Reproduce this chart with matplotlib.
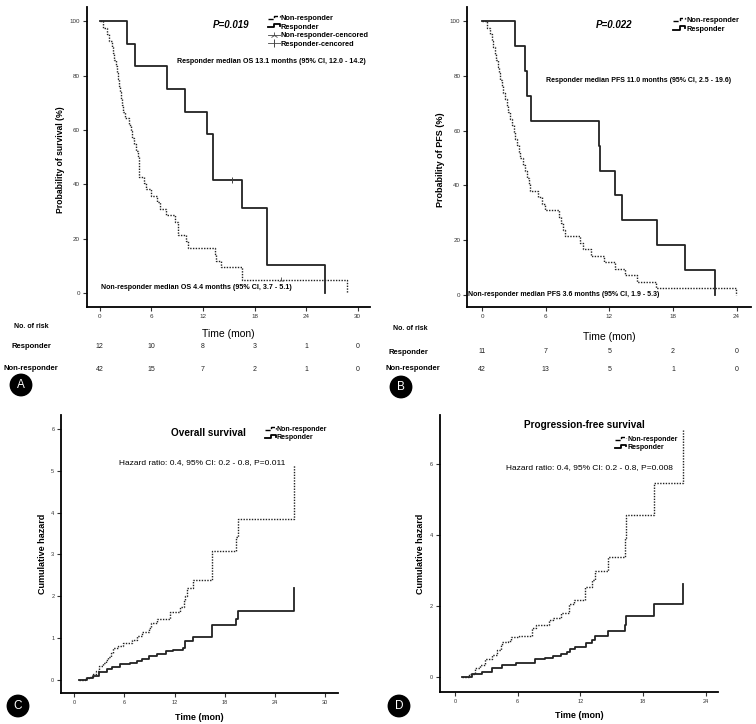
import numpy as np
import matplotlib
matplotlib.use("Agg")
import matplotlib.pyplot as plt
from matplotlib.lines import Line2D
from matplotlib.legend_handler import HandlerLine2D

plt.rcParams['font.family'] = ['Liberation Sans', 'DejaVu Sans']

# ---- A: overall survival, event / censor times (months) ----
os_resp_events = [3.2, 4.1, 7.8, 9.9, 12.5, 13.2, 13.2, 16.5, 19.4, 19.5, 26.2]
os_resp_censor = [15.4]
os_nonr_events = [0.4, 0.8, 1.1, 1.4, 1.5, 1.7, 1.9, 2.0, 2.1, 2.2, 2.4, 2.5, 2.6, 2.7, 2.9,
                  3.4, 3.6, 3.8, 4.0, 4.2, 4.4, 4.6, 4.6, 4.6, 5.1, 5.4, 5.9, 6.6, 7.0, 7.7,
                  8.7, 9.1, 9.1, 10.0, 10.3, 13.4, 13.5, 14.1, 16.5, 16.5, 28.8]
os_nonr_censor = [21.1]
os_risk_resp = [12, 10, 8, 3, 1, 0]
os_risk_nonr = [42, 15, 7, 2, 1, 0]
os_risk_times = [0, 6, 12, 18, 24, 30]

# ---- B: progression-free survival ----
pfs_resp_events = [3.1, 4.0, 4.2, 4.6, 11.0, 11.1, 12.5, 13.2, 16.5, 19.1, 22.0]
pfs_resp_censor = []
pfs_nonr_events = [0.45, 0.7, 0.9, 1.05, 1.2, 1.3, 1.45, 1.55, 1.7, 1.85, 2.0, 2.1, 2.3, 2.45,
                   2.6, 2.8, 2.95, 3.1, 3.3, 3.45, 3.6, 3.8, 4.0, 4.2, 4.4, 4.5, 5.3, 5.6, 5.9,
                   7.2, 7.4, 7.6, 7.8, 9.2, 9.5, 10.3, 11.5, 12.5, 13.5, 14.6, 16.4, 23.9]
pfs_nonr_censor = []
pfs_risk_resp = [11, 7, 5, 2, 0]
pfs_risk_nonr = [42, 13, 5, 1, 0]
pfs_risk_times = [0, 6, 12, 18, 24]

# ---- C: cumulative hazard, overall survival ----
ch_os_nonr_t = [0.6, 1.3, 1.8, 2.2, 2.6, 3.0, 3.4, 3.8, 4.1, 4.4, 4.6, 5.3, 5.8, 6.9, 7.5, 8.1,
                8.9, 9.2, 9.9, 11.5, 12.6, 13.1, 13.3, 13.5, 14.2, 16.5, 19.4, 19.6, 26.3]
ch_os_nonr_v = [0, 0.04, 0.08, 0.14, 0.22, 0.33, 0.40, 0.47, 0.55, 0.65, 0.76, 0.81, 0.89, 0.96,
                1.04, 1.14, 1.24, 1.36, 1.45, 1.62, 1.74, 1.88, 2.0, 2.2, 2.38, 3.09, 3.43, 3.86, 5.15]
ch_os_resp_t = [0.6, 1.5, 2.3, 3.0, 3.9, 4.5, 5.5, 6.7, 7.5, 8.1, 8.9, 9.9, 11.0, 11.8, 13.0,
                13.3, 14.2, 16.5, 19.4, 19.6, 26.3]
ch_os_resp_v = [0, 0.04, 0.1, 0.18, 0.26, 0.32, 0.37, 0.41, 0.46, 0.5, 0.57, 0.61, 0.68, 0.72,
                0.77, 0.92, 1.02, 1.32, 1.45, 1.65, 2.2]

# ---- D: cumulative hazard, PFS ----
ch_pfs_nonr_t = [0.64, 1.3, 1.9, 2.4, 2.9, 3.5, 4.0, 4.4, 4.5, 5.1, 5.4, 6.1, 7.4, 7.8, 9.0, 9.4,
                 10.1, 10.9, 11.4, 12.4, 13.1, 13.4, 14.6, 16.3, 16.4, 19.1, 21.8]
ch_pfs_nonr_v = [0, 0.09, 0.25, 0.35, 0.5, 0.63, 0.77, 0.91, 1.0, 1.02, 1.13, 1.16, 1.38, 1.47,
                 1.62, 1.66, 1.8, 2.06, 2.18, 2.55, 2.74, 3.0, 3.38, 3.92, 4.55, 5.46, 6.95]
ch_pfs_resp_t = [0.64, 1.6, 2.6, 3.5, 4.5, 5.8, 7.7, 8.6, 9.4, 10.1, 10.7, 11.0, 11.5, 12.5, 13.1,
                 13.4, 14.6, 16.3, 16.4, 19.1, 21.8]
ch_pfs_resp_v = [0, 0.09, 0.16, 0.25, 0.35, 0.41, 0.51, 0.55, 0.6, 0.65, 0.72, 0.8, 0.84, 0.96,
                 1.05, 1.15, 1.29, 1.47, 1.71, 2.06, 2.62]

DOT = (0, (1, 1))
NARROW = ['Liberation Sans Narrow', 'Liberation Sans', 'DejaVu Sans']


def km_steps(events, censored):
    """Kaplan-Meier 曲线的阶梯点 (百分比)"""
    n = len(events) + len(censored)
    t, s = [0.0], [100.0]
    cx, cy = [], []
    at_risk, surv = n, 100.0
    for u in sorted(set(events + censored)):
        d = events.count(u)
        c = censored.count(u)
        if d:
            surv *= (1 - d / at_risk)
            t.append(u)
            s.append(surv)
        if c:
            cx.append(u)
            cy.append(surv)
        at_risk -= d + c
    return t, s, cx, cy


class StepHandler(HandlerLine2D):
    """图例里画成阶梯形"""
    def create_artists(self, legend, orig_handle, xdescent, ydescent, width, height, fontsize, trans):
        x = np.array([0, 0.55, 0.55, 1.0, 1.0]) * width - xdescent
        y = np.array([0.2, 0.2, 0.85, 0.85, 0.5]) * height - ydescent
        ln = Line2D(x, y, color='black', lw=orig_handle.get_linewidth(),
                    linestyle=orig_handle.get_linestyle())
        ln.set_transform(trans)
        return [ln]


def style_axes(ax, xlim, ylim, xticks, yticks, tick_fs):
    ax.set_xlim(*xlim)
    ax.set_ylim(*ylim)
    ax.set_xticks(xticks)
    ax.set_yticks(yticks)
    for sp in ['top', 'right']:
        ax.spines[sp].set_visible(False)
    for sp in ['left', 'bottom']:
        ax.spines[sp].set_linewidth(1.3)
    ax.tick_params(direction='out', length=3, width=0.8, labelsize=tick_fs, pad=2, colors='#333333')


fig = plt.figure(figsize=(7.56, 7.24), dpi=100)

# ================= A =================
axA = fig.add_axes([0.115, 0.576, 0.374, 0.414])
style_axes(axA, (-1.5, 31.4), (-5.1, 105.1), range(0, 31, 6), range(0, 101, 20), 4.5)
t, s, cx, cy = km_steps(os_nonr_events, os_nonr_censor)
axA.step(t, s, where='post', color='#222222', lw=1.0, linestyle=DOT)
axA.plot(cx, cy, linestyle='none', marker='2', color='#444444', ms=4, mew=0.6)
t, s, cx, cy = km_steps(os_resp_events, os_resp_censor)
axA.step(t, s, where='post', color='#222222', lw=1.3)
axA.plot(cx, cy, linestyle='none', marker='|', color='#444444', ms=5, mew=0.7)
axA.text(15.3, 98.5, 'P=0.019', fontsize=7, fontstyle='italic', fontweight='bold', ha='center', va='center')
axA.text(9.0, 85, 'Responder median OS 13.1 months (95% CI, 12.0 - 14.2)', fontsize=5.1,
         fontweight='bold', family=NARROW, ha='left', va='center')
axA.text(0.1, 2.2, 'Non-responder median OS 4.4 months (95% CI, 3.7 - 5.1)', fontsize=5.1,
         fontweight='bold', family=NARROW, ha='left', va='center')
hA = [Line2D([], [], color='#222222', lw=1.0, linestyle=DOT),
      Line2D([], [], color='#222222', lw=1.3),
      Line2D([], [], color='#444444', lw=0.6, marker='2', ms=5, mew=0.6),
      Line2D([], [], color='#444444', lw=0.6, marker='|', ms=6, mew=0.7)]
axA.legend(hA, ['Non-responder', 'Responder', 'Non-responder-cencored', 'Responder-cencored'],
           handler_map={hA[0]: StepHandler(), hA[1]: StepHandler()},
           loc='upper left', bbox_to_anchor=(0.64, 0.975), frameon=False,
           prop={'size': 5.3, 'weight': 'bold', 'family': NARROW},
           handlelength=1.6, handletextpad=0.15, labelspacing=0.2, borderpad=0, borderaxespad=0)
axA.set_ylabel('Probability of survival (%)', fontsize=6.2, fontweight='bold')
axA.yaxis.set_label_coords(-0.078, 0.49)
axA.set_xlabel('Time (mon)', fontsize=7.5)
axA.xaxis.set_label_coords(0.5, -0.073)
trA = axA.get_xaxis_transform()
for x, r1, r2 in zip(os_risk_times, os_risk_resp, os_risk_nonr):
    axA.text(x, -0.133, str(r1), transform=trA, fontsize=5, ha='center', va='center', color='#222222')
    axA.text(x, -0.207, str(r2), transform=trA, fontsize=5, ha='center', va='center', color='#222222')
fig.text(31 / 756, 1 - 327 / 724, 'No. of risk', fontsize=5, fontweight='bold', ha='center', va='center')
fig.text(31 / 756, 1 - 347 / 724, 'Responder', fontsize=5.5, fontweight='bold', ha='center', va='center')
fig.text(31 / 756, 1 - 369 / 724, 'Non-responder', fontsize=5.5, fontweight='bold', ha='center', va='center')

# ================= B =================
axB = fig.add_axes([0.618, 0.576, 0.376, 0.414])
style_axes(axB, (-1.42, 25.4), (-4.4, 105.1), range(0, 25, 6), range(0, 101, 20), 4.5)
t, s, cx, cy = km_steps(pfs_nonr_events, pfs_nonr_censor)
axB.step(t, s, where='post', color='#222222', lw=1.0, linestyle=DOT)
t, s, cx, cy = km_steps(pfs_resp_events, pfs_resp_censor)
axB.step(t, s, where='post', color='#222222', lw=1.3)
axB.text(12.4, 98.5, 'P=0.022', fontsize=7, fontstyle='italic', fontweight='bold', ha='center', va='center')
axB.text(6.05, 78.5, 'Responder median PFS 11.0 months (95% CI, 2.5 - 19.6)', fontsize=5.0,
         fontweight='bold', family=NARROW, ha='left', va='center')
axB.text(-1.3, 0.3, 'Non-responder median PFS 3.6 months (95% CI, 1.9 - 5.3)', fontsize=5.0,
         fontweight='bold', family=NARROW, ha='left', va='center')
hB = [Line2D([], [], color='#222222', lw=1.0, linestyle=DOT),
      Line2D([], [], color='#222222', lw=1.3)]
axB.legend(hB, ['Non-responder', 'Responder'], handler_map={hB[0]: StepHandler(), hB[1]: StepHandler()},
           loc='upper left', bbox_to_anchor=(0.725, 0.968), frameon=False,
           prop={'size': 5.3, 'weight': 'bold', 'family': NARROW},
           handlelength=1.6, handletextpad=0.15, labelspacing=0.2, borderpad=0, borderaxespad=0)
axB.set_ylabel('Probability of PFS (%)', fontsize=6.5, fontweight='bold')
axB.yaxis.set_label_coords(-0.077, 0.49)
axB.set_xlabel('Time (mon)', fontsize=7.5)
axB.xaxis.set_label_coords(0.5, -0.083)
trB = axB.get_xaxis_transform()
for x, r1, r2 in zip(pfs_risk_times, pfs_risk_resp, pfs_risk_nonr):
    axB.text(x, -0.15, str(r1), transform=trB, fontsize=5, ha='center', va='center', color='#222222')
    axB.text(x, -0.207, str(r2), transform=trB, fontsize=5, ha='center', va='center', color='#222222')
fig.text(410 / 756, 1 - 329 / 724, 'No. of risk', fontsize=5, fontweight='bold', ha='center', va='center')
fig.text(408 / 756, 1 - 352 / 724, 'Responder', fontsize=5.5, fontweight='bold', ha='center', va='center')
fig.text(413 / 756, 1 - 369 / 724, 'Non-responder', fontsize=5.5, fontweight='bold', ha='center', va='center')

# ================= C =================
axC = fig.add_axes([0.081, 0.043, 0.366, 0.384])
style_axes(axC, (-1.55, 31.55), (-0.31, 6.34), range(0, 31, 6), range(0, 7), 4)
axC.step(ch_os_nonr_t, ch_os_nonr_v, where='post', color='#222222', lw=1.0, linestyle=DOT)
axC.step(ch_os_resp_t, ch_os_resp_v, where='post', color='#222222', lw=1.3)
axC.text(16.0, 5.9, 'Overall survival', fontsize=7.2, fontweight='bold', ha='center', va='center')
axC.text(15.3, 5.19, 'Hazard ratio: 0.4, 95% CI: 0.2 - 0.8, P=0.011', fontsize=6.0, ha='center', va='center')
hC = [Line2D([], [], color='#222222', lw=1.0, linestyle=DOT),
      Line2D([], [], color='#222222', lw=1.3)]
axC.legend(hC, ['Non-responder', 'Responder'], handler_map={hC[0]: StepHandler(), hC[1]: StepHandler()},
           loc='upper left', bbox_to_anchor=(0.736, 0.96), frameon=False,
           prop={'size': 5.0, 'weight': 'bold', 'family': NARROW},
           handlelength=1.6, handletextpad=0.1, labelspacing=0.15, borderpad=0, borderaxespad=0)
axC.set_ylabel('Cumulative hazard', fontsize=6.5, fontweight='bold')
axC.yaxis.set_label_coords(-0.05, 0.5)
axC.set_xlabel('Time (mon)', fontsize=6.5, fontweight='bold')
axC.xaxis.set_label_coords(0.5, -0.072)

# ================= D =================
axD = fig.add_axes([0.582, 0.044, 0.368, 0.383])
style_axes(axD, (-1.44, 25.2), (-0.42, 7.38), range(0, 25, 6), range(0, 7, 2), 4)
axD.step(ch_pfs_nonr_t, ch_pfs_nonr_v, where='post', color='#222222', lw=1.0, linestyle=DOT)
axD.step(ch_pfs_resp_t, ch_pfs_resp_v, where='post', color='#222222', lw=1.3)
axD.text(12.4, 7.1, 'Progression-free survival', fontsize=7.2, fontweight='bold', ha='center', va='center')
axD.text(12.9, 5.89, 'Hazard ratio: 0.4, 95% CI: 0.2 - 0.8, P=0.008', fontsize=6.0, ha='center', va='center')
hD = [Line2D([], [], color='#222222', lw=1.0, linestyle=DOT),
      Line2D([], [], color='#222222', lw=1.3)]
axD.legend(hD, ['Non-responder', 'Responder'], handler_map={hD[0]: StepHandler(), hD[1]: StepHandler()},
           loc='upper left', bbox_to_anchor=(0.63, 0.925), frameon=False,
           prop={'size': 5.0, 'weight': 'bold', 'family': NARROW},
           handlelength=1.6, handletextpad=0.1, labelspacing=0.15, borderpad=0, borderaxespad=0)
axD.set_ylabel('Cumulative hazard', fontsize=6.5, fontweight='bold')
axD.yaxis.set_label_coords(-0.054, 0.5)
axD.set_xlabel('Time (mon)', fontsize=6.5, fontweight='bold')
axD.xaxis.set_label_coords(0.5, -0.069)

# 面板字母
for lab, px, py in [('A', 21, 385), ('B', 401, 387), ('C', 18, 706), ('D', 399, 706)]:
    fig.text(px / 756, 1 - py / 724, lab, color='white', fontsize=8.5, ha='center', va='center',
             bbox=dict(boxstyle='circle,pad=0.4', fc='black', ec='black'))

fig.savefig('out.png', dpi=100)
